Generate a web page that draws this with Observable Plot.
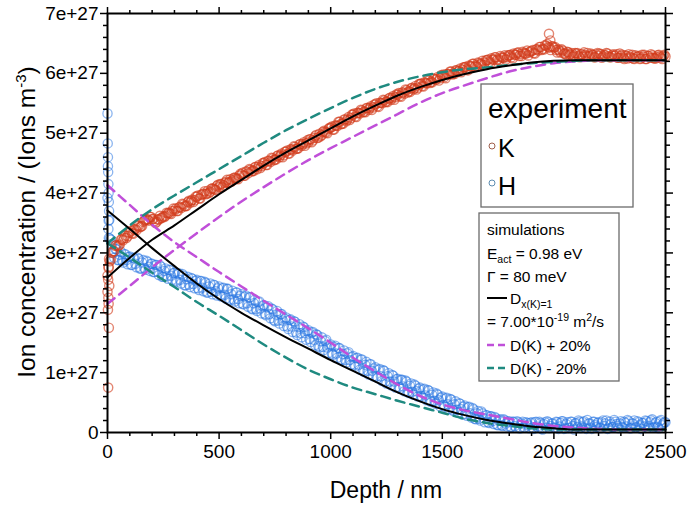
<!DOCTYPE html>
<html><head><meta charset="utf-8">
<script src="https://cdn.jsdelivr.net/npm/d3@7"></script>
<script src="https://cdn.jsdelivr.net/npm/@observablehq/plot@0.6"></script>
<style>body{margin:0;background:#fff} svg{display:block}</style>
</head><body><div id="chart"></div>
<script>
// ---- data (concentrations in units of 1e27 ions m^-3) ----
const expStep = 10; // nm spacing of each experimental sample set
// K, samples at 0,10,...,2500 nm
const kValues = [
2.62,2.86,3.01,3.03,3.13,3.12,3.22,3.21,3.29,3.28,
3.34,3.33,3.39,3.38,3.45,3.44,3.52,3.55,3.56,3.60,
3.56,3.53,3.52,3.56,3.58,3.61,3.62,3.66,3.66,3.70,
3.71,3.70,3.76,3.75,3.81,3.78,3.85,3.84,3.89,3.88,
3.94,3.91,3.97,3.99,3.98,4.04,4.02,4.08,4.06,4.12,
4.10,4.15,4.13,4.19,4.17,4.23,4.21,4.26,4.24,4.29,
4.31,4.29,4.36,4.33,4.39,4.37,4.43,4.40,4.47,4.45,
4.50,4.47,4.54,4.52,4.58,4.56,4.62,4.60,4.66,4.63,
4.69,4.66,4.73,4.71,4.77,4.74,4.81,4.79,4.85,4.83,
4.85,4.90,4.88,4.95,4.92,4.99,4.97,5.04,5.01,5.07,
5.09,5.06,5.13,5.12,5.19,5.16,5.23,5.20,5.27,5.25,
5.31,5.28,5.34,5.33,5.38,5.36,5.42,5.39,5.45,5.43,
5.48,5.45,5.51,5.50,5.55,5.53,5.58,5.56,5.62,5.60,
5.64,5.62,5.68,5.66,5.72,5.70,5.75,5.73,5.79,5.76,
5.82,5.79,5.85,5.83,5.88,5.86,5.91,5.89,5.94,5.92,
5.96,5.94,5.99,5.98,6.03,6.00,6.05,6.03,6.08,6.06,
6.10,6.07,6.13,6.11,6.16,6.13,6.18,6.15,6.21,6.18,
6.22,6.19,6.25,6.23,6.27,6.24,6.29,6.26,6.30,6.27,
6.30,6.27,6.33,6.31,6.35,6.32,6.36,6.33,6.38,6.35,
6.37,6.34,6.40,6.38,6.44,6.41,6.47,6.49,6.43,6.45,
6.43,6.39,6.40,6.35,6.38,6.33,6.36,6.31,6.34,6.30,
6.33,6.29,6.32,6.28,6.31,6.34,6.29,6.31,6.27,6.32,
6.29,6.32,6.28,6.30,6.33,6.27,6.30,6.29,6.32,6.26,
6.29,6.26,6.30,6.25,6.28,6.31,6.24,6.27,6.29,6.25,
6.28,6.24,6.29,6.26,6.30,6.25,6.27,6.31,6.26,6.29,
6.28];
// K, samples at 5,15,...,2495 nm
const kValuesMid = [
2.77,2.89,3.03,3.12,3.11,3.14,3.23,3.25,3.25,3.34,
3.37,3.32,3.40,3.46,3.43,3.45,3.54,3.56,3.54,3.60,
3.57,3.50,3.56,3.62,3.59,3.60,3.67,3.67,3.65,3.74,
3.74,3.70,3.77,3.82,3.78,3.79,3.87,3.87,3.85,3.94,
3.96,3.91,3.98,4.03,3.99,4.00,4.07,4.07,4.05,4.14,
4.15,4.10,4.17,4.22,4.18,4.19,4.25,4.25,4.23,4.32,
4.34,4.29,4.36,4.40,4.36,4.37,4.44,4.44,4.42,4.50,
4.52,4.47,4.54,4.59,4.55,4.56,4.63,4.63,4.60,4.69,
4.71,4.66,4.73,4.78,4.74,4.75,4.82,4.82,4.79,4.88,
4.90,4.85,4.92,4.97,4.93,4.95,5.02,5.02,5.00,5.09,
5.11,5.06,5.13,5.19,5.15,5.16,5.23,5.23,5.22,5.31,
5.33,5.27,5.34,5.39,5.35,5.35,5.42,5.42,5.39,5.48,
5.50,5.44,5.51,5.56,5.52,5.52,5.59,5.59,5.56,5.65,
5.67,5.61,5.68,5.73,5.68,5.69,5.76,5.75,5.73,5.82,
5.83,5.78,5.84,5.89,5.84,5.85,5.91,5.91,5.88,5.97,
5.98,5.92,5.99,6.03,5.98,5.99,6.05,6.04,6.02,6.10,
6.11,6.05,6.12,6.16,6.11,6.11,6.17,6.16,6.14,6.22,
6.23,6.17,6.23,6.27,6.22,6.22,6.27,6.26,6.23,6.30,
6.31,6.25,6.31,6.34,6.29,6.29,6.34,6.33,6.30,6.37,
6.39,6.33,6.40,6.44,6.39,6.40,6.46,6.44,6.39,6.45,
6.44,6.35,6.38,6.40,6.33,6.31,6.35,6.32,6.28,6.34,
6.34,6.27,6.32,6.35,6.29,6.28,6.33,6.31,6.27,6.34,
6.33,6.26,6.31,6.34,6.28,6.27,6.32,6.30,6.26,6.33,
6.31,6.24,6.29,6.32,6.26,6.25,6.30,6.28,6.24,6.31,
6.31,6.24,6.29,6.32,6.26,6.25,6.30,6.28,6.24,6.31];
// H, samples at 0,10,...,2500 nm
const hValues = [
3.92,3.24,3.15,2.92,3.06,2.88,3.02,2.84,2.98,2.81,
2.94,2.80,2.91,2.76,2.90,2.74,2.88,2.72,2.85,2.70,
2.82,2.68,2.80,2.63,2.77,2.60,2.74,2.57,2.71,2.55,
2.67,2.52,2.66,2.49,2.62,2.46,2.60,2.43,2.57,2.41,
2.55,2.38,2.53,2.36,2.50,2.34,2.49,2.31,2.46,2.29,
2.44,2.27,2.42,2.24,2.40,2.21,2.37,2.19,2.34,2.16,
2.31,2.14,2.29,2.10,2.26,2.06,2.22,2.03,2.19,1.99,
2.13,1.96,2.11,1.91,2.06,1.86,2.03,1.82,1.98,1.78,
1.92,1.73,1.89,1.68,1.85,1.63,1.81,1.59,1.76,1.55,
1.71,1.51,1.68,1.46,1.63,1.42,1.59,1.38,1.55,1.33,
1.47,1.30,1.45,1.25,1.41,1.21,1.37,1.17,1.34,1.13,
1.28,1.10,1.25,1.05,1.22,1.01,1.18,0.97,1.14,0.94,
1.09,0.91,1.06,0.86,1.03,0.82,0.99,0.79,0.95,0.75,
0.90,0.73,0.88,0.69,0.85,0.66,0.82,0.63,0.78,0.60,
0.75,0.58,0.73,0.54,0.70,0.51,0.67,0.48,0.63,0.44,
0.60,0.43,0.58,0.39,0.55,0.36,0.52,0.33,0.48,0.30,
0.45,0.28,0.43,0.25,0.39,0.22,0.36,0.20,0.32,0.17,
0.29,0.16,0.27,0.14,0.24,0.12,0.22,0.11,0.20,0.10,
0.19,0.09,0.18,0.08,0.17,0.07,0.18,0.08,0.16,0.07,
0.17,0.06,0.18,0.08,0.16,0.05,0.17,0.19,0.07,0.15,
0.08,0.18,0.06,0.16,0.19,0.07,0.17,0.08,0.18,0.05,
0.16,0.20,0.07,0.17,0.08,0.21,0.15,0.06,0.18,0.09,
0.17,0.07,0.20,0.15,0.06,0.18,0.09,0.21,0.14,0.07,
0.19,0.08,0.16,0.21,0.07,0.15,0.20,0.09,0.17,0.06,
0.16,0.20,0.08,0.17,0.22,0.09,0.18,0.07,0.21,0.15,
0.17];
// H, samples at 5,15,...,2495 nm
const hValuesMid = [
3.54,3.22,3.00,3.07,2.88,2.97,2.87,2.98,2.88,2.93,
2.80,2.92,2.82,2.92,2.74,2.84,2.75,2.87,2.77,2.82,
2.68,2.80,2.69,2.79,2.60,2.70,2.61,2.72,2.62,2.66,
2.54,2.65,2.55,2.65,2.46,2.56,2.47,2.58,2.48,2.53,
2.41,2.53,2.42,2.52,2.34,2.44,2.35,2.47,2.36,2.41,
2.29,2.41,2.30,2.40,2.22,2.31,2.22,2.34,2.23,2.28,
2.15,2.27,2.16,2.26,2.07,2.16,2.06,2.18,2.07,2.11,
1.98,2.09,1.98,2.07,1.88,1.97,1.87,1.98,1.87,1.90,
1.77,1.88,1.77,1.86,1.67,1.76,1.66,1.77,1.66,1.69,
1.56,1.67,1.55,1.64,1.44,1.53,1.43,1.53,1.42,1.45,
1.32,1.43,1.32,1.41,1.22,1.31,1.21,1.32,1.21,1.26,
1.13,1.24,1.13,1.22,1.03,1.13,1.03,1.14,1.03,1.07,
0.94,1.05,0.94,1.04,0.85,0.94,0.85,0.96,0.85,0.89,
0.76,0.88,0.77,0.87,0.68,0.78,0.68,0.80,0.69,0.73,
0.61,0.72,0.62,0.71,0.53,0.63,0.53,0.65,0.54,0.58,
0.46,0.57,0.47,0.56,0.38,0.47,0.38,0.49,0.39,0.43,
0.31,0.42,0.32,0.41,0.23,0.32,0.23,0.35,0.24,0.29,
0.17,0.27,0.19,0.26,0.13,0.20,0.12,0.22,0.15,0.18,
0.09,0.18,0.11,0.19,0.07,0.15,0.08,0.17,0.12,0.16,
0.08,0.17,0.10,0.18,0.06,0.14,0.08,0.17,0.11,0.15,
0.08,0.17,0.10,0.19,0.06,0.14,0.07,0.18,0.11,0.15,
0.09,0.18,0.10,0.19,0.06,0.15,0.08,0.18,0.12,0.16,
0.08,0.17,0.11,0.20,0.07,0.14,0.09,0.18,0.11,0.15,
0.09,0.18,0.10,0.19,0.07,0.15,0.08,0.19,0.12,0.16,
0.10,0.19,0.11,0.20,0.08,0.16,0.09,0.19,0.12,0.17];
// extra near-surface scatter and outliers
const kExtraDepth = [0, 2, 3, 4, 5, 6, 7, 8, 3, 5, 1978, 1984];
const kExtraValue = [2.35, 2.05, 2.55, 2.25, 2.75, 1.75, 2.90, 2.45, 0.75, 2.15, 6.66, 6.55];
const hExtraDepth = [0, 1, 2, 3, 4, 5, 6, 7, 8, 2, 4, 6];
const hExtraValue = [5.33, 4.83, 4.60, 4.35, 4.15, 4.00, 3.85, 3.70, 3.55, 4.45, 3.40, 3.25];

// simulations, sampled every 100 nm
const simDepth = [0,100,200,300,400,500,600,700,800,900,1000,1100,1200,1300,1400,1500,1600,1700,1800,1900,2000,2100,2200,2300,2400,2500];
const kSim   = [2.59,2.92,3.22,3.46,3.72,3.98,4.22,4.46,4.68,4.88,5.08,5.28,5.46,5.63,5.77,5.89,5.99,6.07,6.13,6.18,6.21,6.22,6.22,6.22,6.22,6.22];
const hSim   = [3.71,3.40,3.08,2.78,2.49,2.23,2.00,1.79,1.59,1.40,1.21,1.03,0.85,0.67,0.52,0.39,0.29,0.21,0.15,0.10,0.07,0.05,0.05,0.05,0.05,0.05];
const kPlus  = [2.15,2.45,2.76,3.05,3.33,3.60,3.86,4.10,4.33,4.55,4.75,4.94,5.13,5.32,5.51,5.67,5.80,5.92,6.03,6.11,6.17,6.20,6.22,6.22,6.22,6.22];
const hPlus  = [4.13,3.80,3.47,3.18,2.93,2.68,2.44,2.20,1.97,1.74,1.50,1.25,1.02,0.80,0.61,0.47,0.37,0.30,0.23,0.16,0.11,0.08,0.06,0.05,0.05,0.05];
const kMinus = [3.16,3.46,3.73,3.96,4.18,4.40,4.62,4.84,5.05,5.24,5.42,5.59,5.74,5.86,5.95,6.02,6.07,6.10,6.14,6.17,6.19,6.21,6.22,6.22,6.22,6.22];
const hMinus = [3.16,2.92,2.67,2.43,2.18,1.95,1.71,1.47,1.25,1.05,0.89,0.75,0.64,0.53,0.43,0.33,0.23,0.16,0.11,0.07,0.05,0.05,0.05,0.05,0.05,0.05];

const xMajor = [0, 500, 1000, 1500, 2000, 2500];
const xMinor = [100,200,300,400,600,700,800,900,1100,1200,1300,1400,1600,1700,1800,1900,2100,2200,2300,2400];
const yMajor = [0, 1, 2, 3, 4, 5, 6, 7];
const yMinor = [0.2,0.4,0.6,0.8,1.2,1.4,1.6,1.8,2.2,2.4,2.6,2.8,3.2,3.4,3.6,3.8,4.2,4.4,4.6,4.8,5.2,5.4,5.6,5.8,6.2,6.4,6.6,6.8];

// ---- build tables ----
const toRows = (vals, offset) => vals.map((v, i) => ({d: offset + i * expStep, v}));
const kData = toRows(kValues, 0).concat(toRows(kValuesMid, 5))
  .concat(kExtraDepth.map((d, i) => ({d, v: kExtraValue[i]})));
const hData = toRows(hValues, 0).concat(toRows(hValuesMid, 5))
  .concat(hExtraDepth.map((d, i) => ({d, v: hExtraValue[i]})));
const sim = simDepth.map((d, i) => ({d, kSim: kSim[i], hSim: hSim[i], kPlus: kPlus[i], hPlus: hPlus[i], kMinus: kMinus[i], hMinus: hMinus[i]}));

const FONT = "'Liberation Sans', Arial, Helvetica, sans-serif";
const PURPLE = "#c04fd9", TEAL = "#1f8a80";
const blank = () => "";
const yFmt = v => v === 0 ? "0" : v + "e+27";

const chart = Plot.plot({
  width: 688, height: 508,
  marginLeft: 107, marginRight: 23, marginTop: 13, marginBottom: 76,
  style: {fontFamily: FONT, fontSize: "19px", color: "black", background: "white"},
  x: {domain: [0, 2500]},
  y: {domain: [0, 7]},
  marks: [
    Plot.dot(hData, {x: "d", y: "v", r: 4.6, fill: "none", stroke: "#2a76e2", strokeOpacity: 0.55, strokeWidth: 1.3}),
    Plot.dot(kData, {x: "d", y: "v", r: 4.6, fill: "none", stroke: "#d23c1c", strokeOpacity: 0.62, strokeWidth: 1.4}),
    Plot.line(sim, {x: "d", y: "kPlus", stroke: PURPLE, strokeWidth: 2.5, strokeDasharray: "9,6", curve: "monotone-x"}),
    Plot.line(sim, {x: "d", y: "hPlus", stroke: PURPLE, strokeWidth: 2.5, strokeDasharray: "9,6", curve: "monotone-x"}),
    Plot.line(sim, {x: "d", y: "kMinus", stroke: TEAL, strokeWidth: 2.5, strokeDasharray: "9,6", curve: "monotone-x"}),
    Plot.line(sim, {x: "d", y: "hMinus", stroke: TEAL, strokeWidth: 2.5, strokeDasharray: "9,6", curve: "monotone-x"}),
    Plot.line(sim, {x: "d", y: "kSim", stroke: "black", strokeWidth: 2, curve: "monotone-x"}),
    Plot.line(sim, {x: "d", y: "hSim", stroke: "black", strokeWidth: 2, curve: "monotone-x"}),
    Plot.axisX({ticks: xMajor, tickSize: 7, tickPadding: 5, strokeWidth: 1.5, tickFormat: d => String(d), label: null, fontSize: 19}),
    Plot.axisX({ticks: xMinor, tickSize: 4, strokeWidth: 1.5, tickFormat: blank, label: null}),
    Plot.axisX({anchor: "top", ticks: xMajor, tickSize: 7, strokeWidth: 1.5, tickFormat: blank, label: null}),
    Plot.axisX({anchor: "top", ticks: xMinor, tickSize: 4, strokeWidth: 1.5, tickFormat: blank, label: null}),
    Plot.axisY({ticks: yMajor, tickSize: 7, tickPadding: 2, strokeWidth: 1.5, tickFormat: yFmt, label: null, fontSize: 19}),
    Plot.axisY({ticks: yMinor, tickSize: 4, strokeWidth: 1.5, tickFormat: blank, label: null}),
    Plot.axisY({anchor: "right", ticks: yMajor, tickSize: 7, strokeWidth: 1.5, tickFormat: blank, label: null}),
    Plot.axisY({anchor: "right", ticks: yMinor, tickSize: 4, strokeWidth: 1.5, tickFormat: blank, label: null}),
    Plot.frame({stroke: "black", strokeWidth: 2})
  ]
});
document.getElementById("chart").append(chart);

// ---- titles and legends ----
const svg = d3.select(chart);
const g = svg.append("g").attr("font-family", FONT).attr("fill", "black").attr("text-anchor", "start");

// axis titles
g.append("text").attr("x", 386).attr("y", 498).attr("text-anchor", "middle")
  .attr("font-size", 23).text("Depth / nm");
const yl = g.append("text").attr("transform", "translate(35,222) rotate(-90)")
  .attr("text-anchor", "middle").attr("font-size", 24.5);
yl.append("tspan").text("Ion concentration / (Ions m");
yl.append("tspan").attr("dy", -9).attr("font-size", 15).text("-3");
yl.append("tspan").attr("dy", 9).text(")");

// experiment legend
g.append("rect").attr("x", 481).attr("y", 84).attr("width", 152).attr("height", 123)
  .attr("fill", "white").attr("stroke", "#6b6b6b").attr("stroke-width", 1.3);
g.append("text").attr("x", 488).attr("y", 118).attr("font-size", 28).text("experiment");
g.append("circle").attr("cx", 492).attr("cy", 146).attr("r", 3).attr("fill", "none").attr("stroke", "#a0604d").attr("stroke-width", 1);
g.append("text").attr("x", 498).attr("y", 157).attr("font-size", 25).text("K");
g.append("circle").attr("cx", 492).attr("cy", 183).attr("r", 3).attr("fill", "none").attr("stroke", "#5d8db0").attr("stroke-width", 1);
g.append("text").attr("x", 498).attr("y", 195).attr("font-size", 25).text("H");

// simulations legend
g.append("rect").attr("x", 479).attr("y", 213).attr("width", 140).attr("height", 168)
  .attr("fill", "white").attr("stroke", "#6b6b6b").attr("stroke-width", 1.3);
const fs = 15.5;
g.append("text").attr("x", 487).attr("y", 235).attr("font-size", fs).text("simulations");
const e = g.append("text").attr("x", 487).attr("y", 259).attr("font-size", fs);
e.append("tspan").text("E");
e.append("tspan").attr("dy", 4).attr("font-size", 10.5).text("act");
e.append("tspan").attr("dy", -4).text(" = 0.98 eV");
g.append("text").attr("x", 487).attr("y", 282).attr("font-size", fs).text("Γ = 80 meV");
g.append("line").attr("x1", 487).attr("x2", 507).attr("y1", 298).attr("y2", 298).attr("stroke", "black").attr("stroke-width", 2);
const dx = g.append("text").attr("x", 510).attr("y", 304).attr("font-size", fs);
dx.append("tspan").text("D");
dx.append("tspan").attr("dy", 4).attr("font-size", 10.5).text("x(K)=1");
const dv = g.append("text").attr("x", 487).attr("y", 327).attr("font-size", fs);
dv.append("tspan").text("= 7.00*10");
dv.append("tspan").attr("dy", -6).attr("font-size", 10.5).text("-19");
dv.append("tspan").attr("dy", 6).text(" m");
dv.append("tspan").attr("dy", -6).attr("font-size", 10.5).text("2");
dv.append("tspan").attr("dy", 6).text("/s");
g.append("line").attr("x1", 487).attr("x2", 507).attr("y1", 345).attr("y2", 345).attr("stroke", PURPLE).attr("stroke-width", 2.5).attr("stroke-dasharray", "7,4");
g.append("text").attr("x", 510).attr("y", 351).attr("font-size", fs).text("D(K) + 20%");
g.append("line").attr("x1", 487).attr("x2", 507).attr("y1", 368).attr("y2", 368).attr("stroke", TEAL).attr("stroke-width", 2.5).attr("stroke-dasharray", "7,4");
g.append("text").attr("x", 510).attr("y", 374).attr("font-size", fs).text("D(K) - 20%");
</script>
</body></html>
